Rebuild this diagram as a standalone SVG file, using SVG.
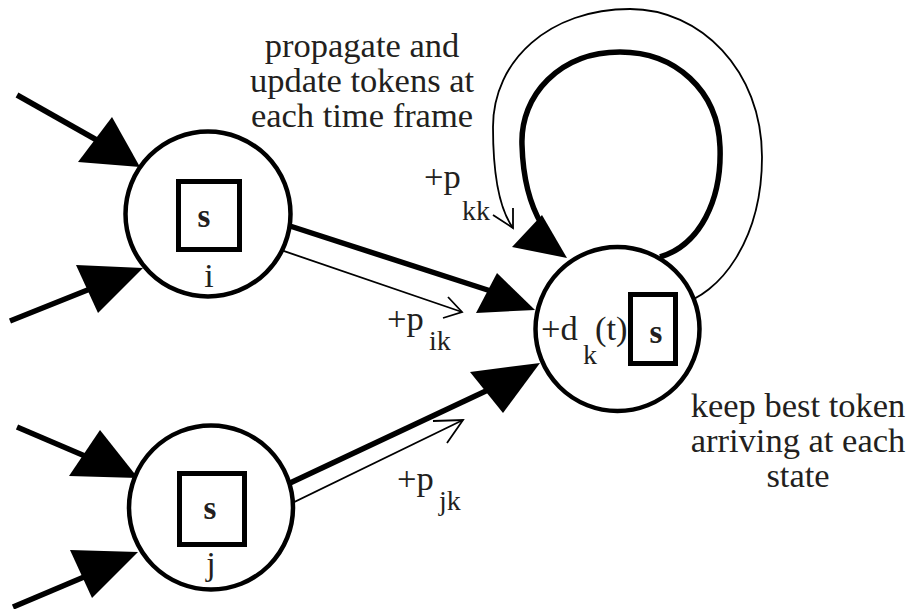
<svg xmlns="http://www.w3.org/2000/svg" width="910" height="609" viewBox="0 0 910 609">
<style>
.node{fill:#fff;stroke:#000;stroke-width:4.5}
.box{fill:none;stroke:#000;stroke-width:5}
.thick{fill:none;stroke:#000;stroke-width:5.5}
.thin{fill:none;stroke:#000;stroke-width:1.8}
.head{fill:#000;stroke:none}
text{font-family:'Liberation Serif','Times New Roman','DejaVu Serif',serif;fill:#231f20}
.lbl{font-size:34.5px}
.sub{font-size:28px}
.s{font-size:33px;font-weight:bold;text-anchor:middle}
.idx{font-size:34px;text-anchor:middle}
</style>
<rect width="910" height="609" fill="#fff"/>
<g id="connectors">
  <line class="thick" x1="17" y1="95" x2="125" y2="156"/>
  <polygon class="head" points="78,162 112,117 140,167"/>
  <line class="thick" x1="10" y1="321" x2="110" y2="281"/>
  <polygon class="head" points="76,265 98,313 143,268"/>
  <line class="thick" x1="17" y1="427" x2="120" y2="471"/>
  <polygon class="head" points="100,430 69,476 138,478"/>
  <line class="thick" x1="13" y1="607" x2="110" y2="566"/>
  <polygon class="head" points="70,550 92,598 138,552"/>
  <line class="thick" x1="290" y1="226" x2="500" y2="294"/>
  <polygon class="head" points="497,273 476,313 535,310"/>
  <line class="thick" x1="290" y1="483" x2="505" y2="382"/>
  <polygon class="head" points="470,372 503,413 540,363"/>
  <path class="thick" d="M660,257 C700,245 722,200 720,147 C718,90 675,52 620,52 C560,52 520,95 522,145 C523,180 530,205 542,225"/>
  <polygon class="head" points="512,247 542,215 567,258"/>
  <polyline class="thin" points="240,236 462,312"/>
  <polyline class="thin" points="448,297 462,312 443,318"/>
  <polyline class="thin" points="247,525 463,420"/>
  <polyline class="thin" points="433,421 463,420 447,443"/>
  <path class="thin" d="M678,305 C720,295 762,240 762,157 C762,70 700,9 630,9 C550,9 493,60 493,127 C493,180 500,210 513,228"/>
  <polyline class="thin" points="493,215 513,228 513,208"/>
</g>
<g id="node-i">
  <circle class="node" cx="208" cy="214" r="82.5"/>
  <rect class="box" x="178.5" y="181.5" width="61" height="68"/>
  <text class="s" x="204" y="227">s</text>
  <text class="idx" x="209" y="287">i</text>
</g>
<g id="node-j">
  <circle class="node" cx="211" cy="507.5" r="82"/>
  <rect class="box" x="179.5" y="473.5" width="65" height="71"/>
  <text class="s" x="210" y="519">s</text>
  <text class="idx" x="211" y="575">j</text>
</g>
<g id="node-k">
  <circle class="node" cx="617.5" cy="329" r="82"/>
  <rect class="box" x="630.5" y="294.5" width="45" height="69"/>
  <text class="s" x="656" y="343">s</text>
  <text class="lbl" x="541" y="340">+d</text>
  <text class="sub" x="583" y="364">k</text>
  <text class="lbl" x="595" y="340">(t)</text>
</g>
<g id="labels">
  <text class="lbl" text-anchor="middle"><tspan x="362" y="57">propagate and</tspan><tspan x="362" y="92">update tokens at</tspan><tspan x="362" y="127">each time frame</tspan></text>
  <text class="lbl" text-anchor="middle"><tspan x="798" y="417">keep best token</tspan><tspan x="798" y="452">arriving at each</tspan><tspan x="798" y="487">state</tspan></text>
  <text class="lbl" x="424" y="188">+p</text>
  <text class="sub" x="462" y="220">kk</text>
  <text class="lbl" x="387" y="330">+p</text>
  <text class="sub" x="429" y="350">ik</text>
  <text class="lbl" x="397" y="490">+p</text>
  <text class="sub" x="439" y="510">jk</text>
</g>
</svg>
